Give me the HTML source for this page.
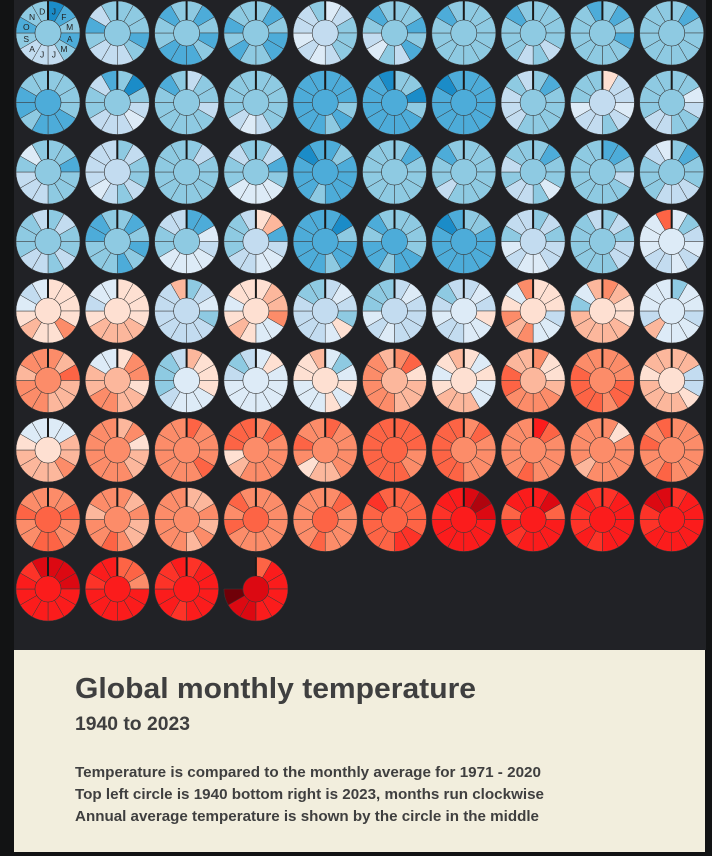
<!DOCTYPE html>
<html><head><meta charset="utf-8"><style>
html,body{margin:0;padding:0;background:#121314;}
svg{display:block;font-family:"Liberation Sans",sans-serif;}
</style></head><body>
<svg id="chart" width="712" height="856" viewBox="0 0 712 856" xmlns="http://www.w3.org/2000/svg">
<rect x="0" y="0" width="712" height="856" fill="#121314"/>
<rect x="14" y="0" width="692" height="650" fill="#212226"/>
<rect x="14" y="650" width="691" height="202" fill="#f2eedd"/>
<g id="circles"></g>
<text x="75" y="698" font-size="29" font-weight="bold" fill="#3f3f3f" textLength="401" lengthAdjust="spacingAndGlyphs">Global monthly temperature</text>
<text x="75" y="730" font-size="19" font-weight="bold" fill="#3f3f3f" textLength="115" lengthAdjust="spacingAndGlyphs">1940 to 2023</text>
<text x="75" y="777" font-size="14.5" font-weight="bold" fill="#3f3f3f" textLength="466" lengthAdjust="spacingAndGlyphs">Temperature is compared to the monthly average for 1971 - 2020</text>
<text x="75" y="799" font-size="14.5" font-weight="bold" fill="#3f3f3f" textLength="469" lengthAdjust="spacingAndGlyphs">Top left circle is 1940 bottom right is 2023, months run clockwise</text>
<text x="75" y="821" font-size="14.5" font-weight="bold" fill="#3f3f3f" textLength="464" lengthAdjust="spacingAndGlyphs">Annual average temperature is shown by the circle in the middle</text>
</svg>
<script>
// data: anomaly level codes per year (0 = coldest blue ... D = hottest dark red)
const years = [];
for (let y = 1940; y <= 2023; y++) years.push(y);
const monthLabels = ["J","F","M","A","M","J","J","A","S","O","N","D"];
const monthlyLevels = [
"012123332122","222123332132","212121112212","212112212122","432223434332","221213243212","222222222212","222232322212","212122222221","212222222222",
"222211121122","202343332231","322322222212","222223432222","111212111111","220211111110","111111111101","212222233323","533432334222","224322332222",
"221222333242","232232343333","232222222222","231244442232","121111211101","212222222222","222222232212","212242332322","112322222222","212233322234",
"232232332223","212121222112","114344442233","561344332223","102112111111","222211211212","221111111101","232334434233","232332222223","423434334448",
"555575565434","555566665344","234233333336","566744565455","343254333322","343333434222","343544334323","555344767547","765566666246","244344463444",
"768666777677","577566776644","655544432223","454444444323","424545444556","785666777776","545446665456","755677778866","777887888877","663356666566",
"446676666544","675667777777","877787777777","787777765888","877776657877","888778888888","787777888888","A87777877777","757777767777","777777877878",
"778778877877","767667877677","667676777777","777777778787","787777877777","888899888898","BCBAAAAAA9AA","AB8AAAA9A8AA","9AAAAA9A99A9","9AAAAAAA99BB",
"BBBAAAAAAA9B","887AAAAAA9AA","9AAAAA9AA99A","8AAAAABBD"];
const annualLevels = [
"2","2","2","2","3","2","2","2","2","2",
"1","2","2","2","1","1","1","2","3","2",
"2","3","2","2","1","2","2","2","2","2",
"2","2","2","3","1","1","1","3","2","4",
"5","5","3","5","3","3","4","5","5","4",
"7","6","4","4","5","6","5","6","7","5",
"5","7","7","7","7","8","7","7","7","7",
"8","7","7","8","8","8","A","A","A","A",
"A","A","A","B"];
const palette = {"0":"#1b8cc8","1":"#4dacd9","2":"#8ecae2","3":"#c3dcf0","4":"#ddebf7","5":"#fee0d2","6":"#fcb79c","7":"#fc8c69","8":"#fd6445","9":"#fd3328","A":"#fb1c1c","B":"#dc0912","C":"#b0040e","D":"#700008"};

const NS = "http://www.w3.org/2000/svg";
const g = document.getElementById("circles");
const cx0 = 48, cy0 = 33, dx = 69.3, dy = 69.5, R = 32, r0 = 13;
function colX(i){ return cx0 + (i % 10) * dx; }
function rowY(i){ return cy0 + Math.floor(i / 10) * dy; }
function pt(cx, cy, rad, a){ return [cx + rad*Math.sin(a), cy - rad*Math.cos(a)]; }

years.forEach((yr, i) => {
  const cx = colX(i), cy = rowY(i);
  const grp = document.createElementNS(NS, "g");
  
  
  const lv = monthlyLevels[i];
  for (let m = 0; m < lv.length; m++) {
    const a1 = m * Math.PI / 6, a2 = (m + 1) * Math.PI / 6;
    const p1 = pt(cx,cy,R,a1), p2 = pt(cx,cy,R,a2), p3 = pt(cx,cy,r0,a2), p4 = pt(cx,cy,r0,a1);
    const path = document.createElementNS(NS, "path");
    path.setAttribute("d", `M${p4[0]},${p4[1]} L${p1[0]},${p1[1]} A${R},${R} 0 0 1 ${p2[0]},${p2[1]} L${p3[0]},${p3[1]} A${r0},${r0} 0 0 0 ${p4[0]},${p4[1]}Z`);
    path.setAttribute("fill", palette[lv[m]]);
    path.setAttribute("stroke", "#3a3a3a");
    path.setAttribute("stroke-width", "0.5");
    
    
    grp.appendChild(path);
  }
  const c = document.createElementNS(NS, "circle");
  c.setAttribute("cx", cx); c.setAttribute("cy", cy); c.setAttribute("r", r0);
  c.setAttribute("fill", palette[annualLevels[i]]);
  c.setAttribute("stroke", "#3a3a3a"); c.setAttribute("stroke-width", "0.6");
  
  
  grp.appendChild(c);
  const ln = document.createElementNS(NS, "line");
  ln.setAttribute("x1", cx); ln.setAttribute("x2", cx);
  ln.setAttribute("y1", cy - R); ln.setAttribute("y2", cy - r0);
  ln.setAttribute("stroke", "#1a1a1a"); ln.setAttribute("stroke-width", "2");
  
  
  grp.appendChild(ln);
  if (i === 0) {
    monthLabels.forEach((ml, m) => {
      const p = pt(cx, cy, 22.5, (m + 0.5) * Math.PI / 6);
      const t = document.createElementNS(NS, "text");
      t.setAttribute("x", p[0]); t.setAttribute("y", p[1] + 3);
      t.setAttribute("text-anchor", "middle");
      t.setAttribute("font-size", "8.5");
      t.setAttribute("fill", "#222");
      
      
      t.textContent = ml;
      grp.appendChild(t);
    });
  }
  g.appendChild(grp);
});
</script>
</body></html>
